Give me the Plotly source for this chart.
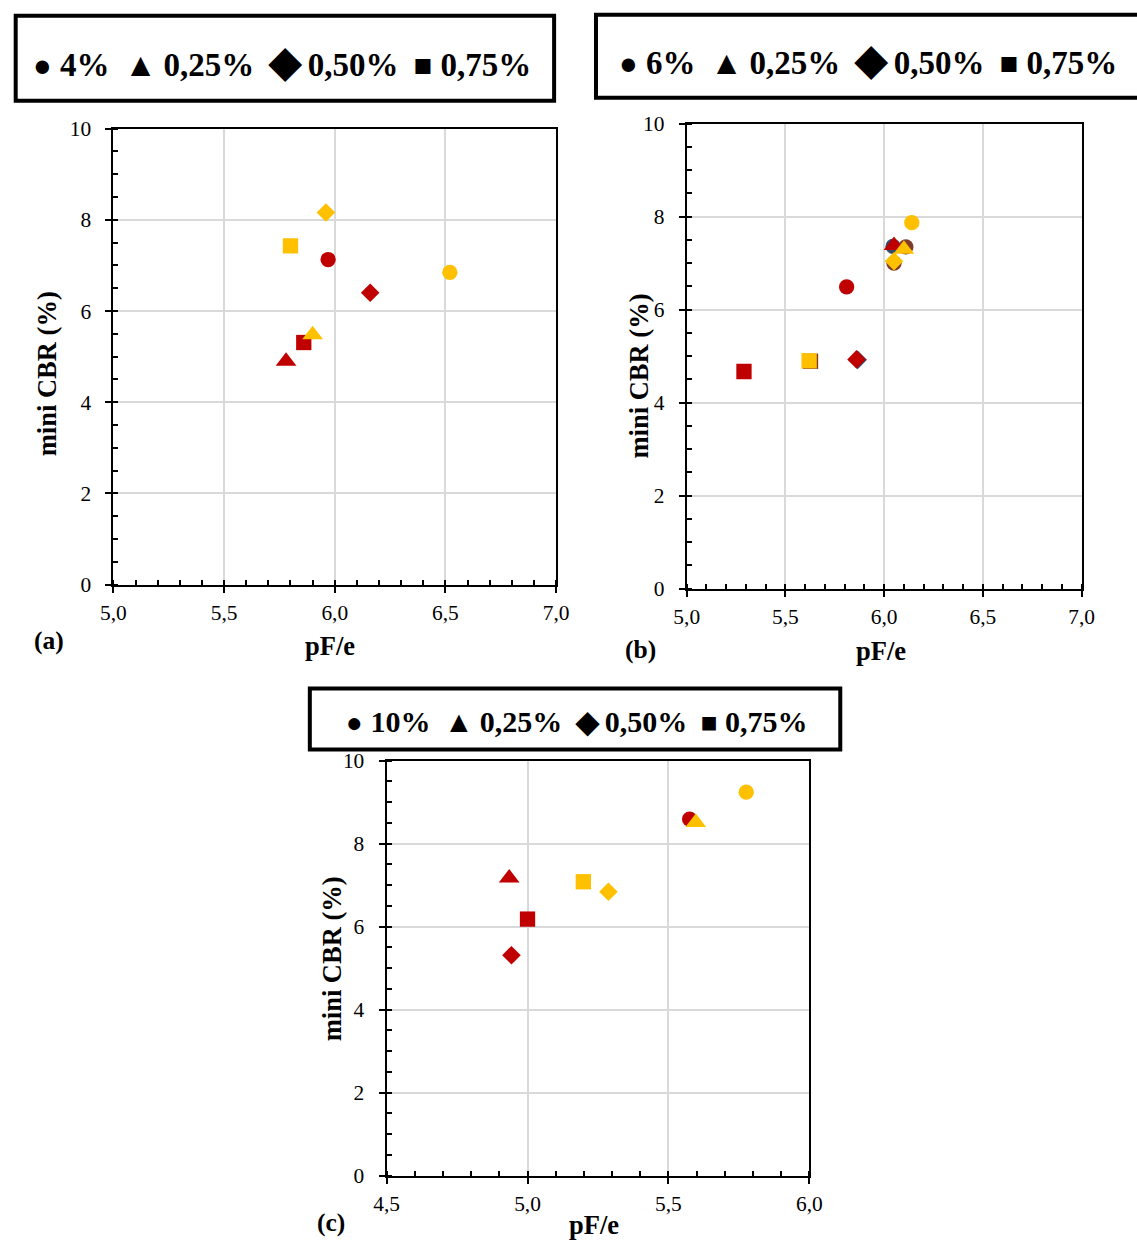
import plotly.graph_objects as go

W, H = 1137, 1241
RED = "#C00000"
YEL = "#FFC000"
SYMS = ["circle", "triangle-up", "diamond", "square"]

# ---- data (order: circle, triangle, diamond, square) ----
a_red_x = [5.97, 5.78, 6.16, 5.86]
a_red_y = [7.13, 4.90, 6.40, 5.31]
a_yel_x = [6.52, 5.90, 5.96, 5.80]
a_yel_y = [6.85, 5.48, 8.16, 7.43]

b_red_x = [5.81, 6.05, 5.86, 5.29]
b_red_y = [6.49, 7.38, 4.93, 4.67]
b_yel_x = [6.14, 6.10, 6.05, 5.62]
b_yel_y = [7.87, 7.30, 7.04, 4.90]
# partially hidden markers behind the cluster in (b)
b_blue_x = [6.045, 5.866]
b_blue_y = [7.36, 4.92]
b_blue_sym = ["circle", "diamond"]
b_brown_x = [6.11, 6.05, 5.627]
b_brown_y = [7.35, 7.00, 4.89]
b_brown_sym = ["circle", "circle", "square"]

c_red_x = [5.575, 4.935, 4.943, 5.00]
c_red_y = [8.59, 7.17, 5.31, 6.18]
c_yel_x = [5.776, 5.597, 5.287, 5.198]
c_yel_y = [9.24, 8.51, 6.84, 7.08]

legend_cement = ["4%", "6%", "10%"]
legend_fibers = ["0,25%", "0,50%", "0,75%"]
panel_labels = ["(a)", "(b)", "(c)"]
x_title = "pF/e"
y_title = "mini CBR (%)"

SERIF = "Liberation Serif"
# the page is photographed with a small padding around the figure
OFF, SC = 11.3, 0.98
SIZE_BY_SYM = {"circle": 15.3, "triangle-up": 18, "diamond": 14.3, "square": 15.3}


def fsz(v):
    return v / SC


def px(x):
    return ((x - OFF) / SC) / W


def py(y):
    return 1 - ((y - OFF) / SC) / H


fig = go.Figure()


def add(xs, ys, color, axis, syms=SYMS):
    sizes = [SIZE_BY_SYM[s] for s in syms]
    fig.add_trace(go.Scatter(
        x=xs, y=ys, mode="markers", xaxis="x" + axis, yaxis="y" + axis,
        marker=dict(symbol=syms, color=color, size=sizes, opacity=1, line=dict(width=0)),
        showlegend=False, hoverinfo="x+y"))


add(a_red_x, a_red_y, RED, "")
add(a_yel_x, a_yel_y, YEL, "")
add(b_blue_x, b_blue_y, "#2F4B6E", "2", b_blue_sym)
add(b_brown_x, b_brown_y, "#7E3A2A", "2", b_brown_sym)
add(b_red_x, b_red_y, RED, "2")
add(b_yel_x, b_yel_y, YEL, "2")
add(c_red_x, c_red_y, RED, "3")
add(c_yel_x, c_yel_y, YEL, "3")


def xax(rng, domain, anchor):
    return dict(range=rng, domain=domain, anchor=anchor, tick0=rng[0], dtick=0.5,
                showline=True, linecolor="black", linewidth=2, mirror=True,
                ticks="outside", ticklen=6, tickwidth=2, tickcolor="black",
                showgrid=True, gridcolor="#d9d9d9", gridwidth=2, zeroline=False,
                tickformat=".1f", ticklabelstandoff=2,
                tickfont=dict(family=SERIF, size=fsz(21), color="black"),
                minor=dict(ticks="inside", ticklen=5, tickwidth=2, tickcolor="black",
                           dtick=0.1, tick0=rng[0], showgrid=False),
                fixedrange=True)


def yax(domain, anchor):
    return dict(range=[0, 10], domain=domain, anchor=anchor, tick0=0, dtick=2,
                showline=True, linecolor="black", linewidth=2, mirror=True,
                ticks="outside", ticklen=6, tickwidth=2, tickcolor="black",
                showgrid=True, gridcolor="#d9d9d9", gridwidth=2, zeroline=False,
                ticklabelstandoff=10,
                tickfont=dict(family=SERIF, size=fsz(21), color="black"),
                minor=dict(ticks="inside", ticklen=5, tickwidth=2, tickcolor="black",
                           dtick=0.5, tick0=0, showgrid=False),
                fixedrange=True)


layout = dict(
    width=W, height=H, margin=dict(l=0, r=0, t=0, b=0),
    paper_bgcolor="white", plot_bgcolor="white", separators=",.",
    xaxis=xax([5, 7], [px(112), px(556)], "y"),
    yaxis=yax([py(584), py(128)], "x"),
    xaxis2=xax([5, 7], [px(687), px(1083)], "y2"),
    yaxis2=yax([py(588), py(123)], "x2"),
    xaxis3=xax([4.5, 6], [px(386), px(810)], "y3"),
    yaxis3=yax([py(1175), py(760)], "x3"),
)
fig.update_layout(**layout)

shapes = []
for (x0, y0, x1, y1) in [(14, 15, 554, 100), (596, 14, 1160, 97), (309, 688, 841, 749)]:
    shapes.append(dict(type="rect", xref="paper", yref="paper",
                       x0=px(x0), x1=px(x1), y0=py(y1), y1=py(y0),
                       line=dict(color="black", width=4), fillcolor="white", layer="below"))
fig.update_layout(shapes=shapes)

ann = []
NB = "\u00a0"
TH = "\u2009"


def legend_text(cem, big_diamond, fs):
    dsz = int(fs * 1.3) if big_diamond else fs
    return (f"<b><span style='font-size:{int(fs*0.95)}px'>●</span>{NB}{cem}{NB}{TH}"
            f"<span style='font-size:{int(fs*1.0)}px'>▲</span>{TH}{legend_fibers[0]}{NB}{TH}"
            f"<span style='font-size:{dsz}px'>◆</span>{TH}{legend_fibers[1]}{NB}{TH}"
            f"<span style='font-size:{int(fs*0.95)}px'>■</span>{NB}{legend_fibers[2]}</b>")


for cem, cx, cy, big, fs in [(legend_cement[0], 281, 61, True, 32),
                              (legend_cement[1], 869, 59, True, 32),
                              (legend_cement[2], 577, 721, False, 29)]:
    f = int(round(fsz(fs)))
    ann.append(dict(text=legend_text(cem, big, f), x=px(cx), y=py(cy), xref="paper", yref="paper",
                    showarrow=False, xanchor="center", yanchor="middle",
                    font=dict(family=SERIF, size=f, color="black")))

for lab, lx, ly in zip(panel_labels, [47, 641, 330], [640, 649, 1222]):
    ann.append(dict(text=f"<b>{lab}</b>", x=px(lx), y=py(ly), xref="paper", yref="paper",
                    showarrow=False, xanchor="center", yanchor="middle",
                    font=dict(family=SERIF, size=fsz(25), color="black")))

for tx, ty in [(329, 645), (882, 650), (594, 1224)]:
    ann.append(dict(text=f"<b>{x_title}</b>", x=px(tx), y=py(ty), xref="paper", yref="paper",
                    showarrow=False, xanchor="center", yanchor="middle",
                    font=dict(family=SERIF, size=fsz(26), color="black")))

for tx, ty in [(45, 373), (639, 375), (331, 958)]:
    ann.append(dict(text=f"<b>{y_title}</b>", x=px(tx), y=py(ty), xref="paper", yref="paper",
                    showarrow=False, xanchor="center", yanchor="middle", textangle=-90,
                    font=dict(family=SERIF, size=fsz(26), color="black")))

fig.update_layout(annotations=ann)
fig.write_html("out.html", config={"displayModeBar": False},
               post_script="document.body.style.margin='0';document.body.style.overflow='hidden';")
